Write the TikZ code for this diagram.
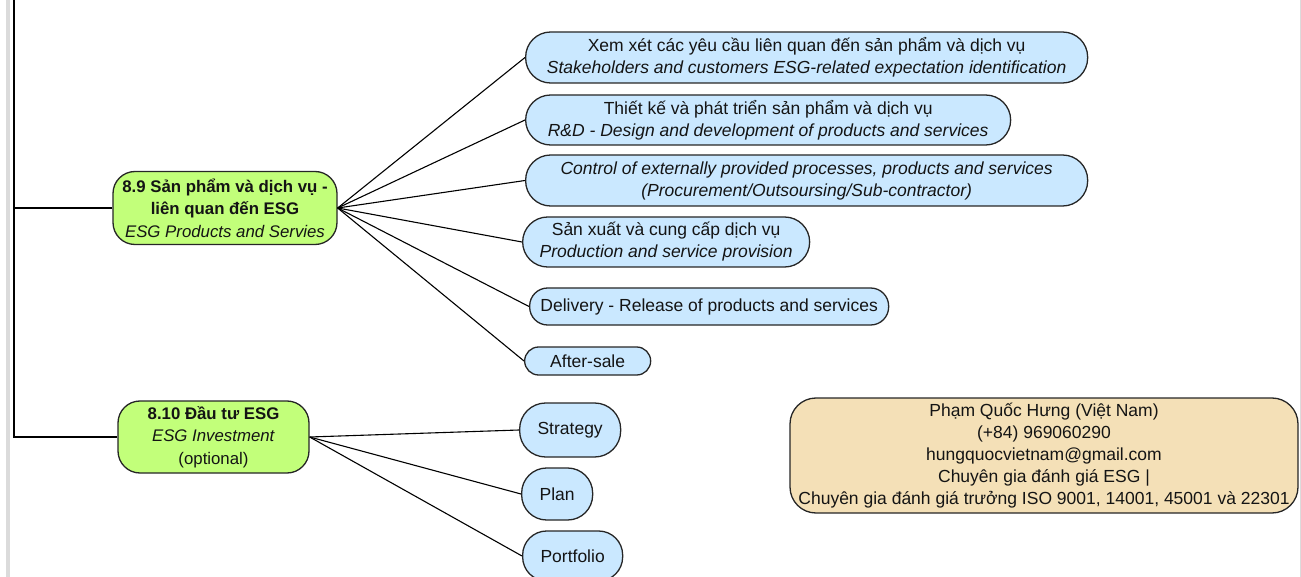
\documentclass[tikz,border=0pt]{standalone}
\usepackage{fontspec}
\setmainfont{Liberation Sans}
\usetikzlibrary{calc}

\definecolor{esggreen}{RGB}{194,255,122}
\definecolor{esgblue}{RGB}{202,232,255}
\definecolor{esgtan}{RGB}{244,224,183}

\tikzset{
    box/.style={draw=black!85, line width=1.3pt, align=center, inner xsep=3pt, inner ysep=0pt,
        text=black!92, font=\fontsize{17.5}{22}\selectfont},
    topic/.style={box, fill=esggreen, rounded corners=22pt, font=\fontsize{16.8}{22.5}\selectfont},
    sub/.style={box, fill=esgblue, rounded corners=#1},
    sub/.default=25pt,
    link/.style={line width=1.1pt}
}

\begin{document}
\begin{tikzpicture}[x=1pt,y=-1pt]
    \useasboundingbox (0,0) rectangle (1301,577);
    % page edges
    \fill[black!14] (6,0) rectangle (10,577);
    \draw[black!14, line width=1pt] (1300,0) -- (1300,577);

    % 8.9
    \node[topic, minimum width=224pt, minimum height=73pt] (prod) at (225,208)
    {\textbf{8.9 Sản phẩm và dịch vụ -}\\ \textbf{liên quan đến ESG}\\ \textit{ESG Products and Servies}};

    \node[sub, anchor=west, minimum width=562pt, minimum height=51pt] (req) at (525,57.5)
    {Xem xét các yêu cầu liên quan đến sản phẩm và dịch vụ\\
     \textit{Stakeholders and customers ESG-related expectation identification}};
    \node[sub, anchor=west, minimum width=485pt, minimum height=50pt] (rnd) at (525,120)
    {Thiết kế và phát triển sản phẩm và dịch vụ\\
     \textit{R\&D - Design and development of products and services}};
    \node[sub, anchor=west, minimum width=562pt, minimum height=51pt] (ctrl) at (525,180.5)
    {\textit{Control of externally provided processes, products and services}\\
     \textit{(Procurement/Outsoursing/Sub-contractor)}};
    \node[sub, anchor=west, minimum width=287pt, minimum height=50pt] (make) at (522,242)
    {Sản xuất và cung cấp dịch vụ\\ \textit{Production and service provision}};
    \node[sub=18pt, anchor=west, minimum width=359pt, minimum height=37pt] (deliv) at (529,306.5)
    {Delivery - Release of products and services};
    \node[sub=14pt, anchor=west, minimum width=126pt, minimum height=28pt] (after) at (524,361)
    {After-sale};

    % 8.10
    \node[topic, minimum width=191pt, minimum height=72pt] (inv) at (213.5,437)
    {\textbf{8.10 Đầu tư ESG}\\ \textit{ESG Investment}\\ (optional)};

    \node[sub=26pt, anchor=west, minimum width=101pt, minimum height=54pt] (strat) at (519,430)
    {Strategy};
    \node[sub=25pt, anchor=west, minimum width=71pt, minimum height=52pt] (plan) at (521,494)
    {Plan};
    \node[sub=24pt, anchor=west, minimum width=100pt, minimum height=50pt] (port) at (522,556)
    {Portfolio};

    % contact
    \node[box, fill=esgtan, rounded corners=26pt, minimum width=508pt, minimum height=115pt] (info) at (1044,455.5)
    {Phạm Quốc Hưng (Việt Nam)\\ (+84) 969060290\\ hungquocvietnam@gmail.com\\
     Chuyên gia đánh giá ESG |\\ Chuyên gia đánh giá trưởng ISO 9001, 14001, 45001 và 22301};

    % trunk
    \coordinate (trunk) at (14,0);
    \draw[link] (trunk) |- (inv.west);
    \draw[link] (prod.west) -- (prod.west -| trunk);

    % branches
    \foreach \kid in {req,rnd,ctrl,make,deliv,after}
        \draw[link] (prod.east) -- (\kid.west);
    \foreach \kid in {strat,plan,port}
        \draw[link] (inv.east) -- (\kid.west);
\end{tikzpicture}
\end{document}
